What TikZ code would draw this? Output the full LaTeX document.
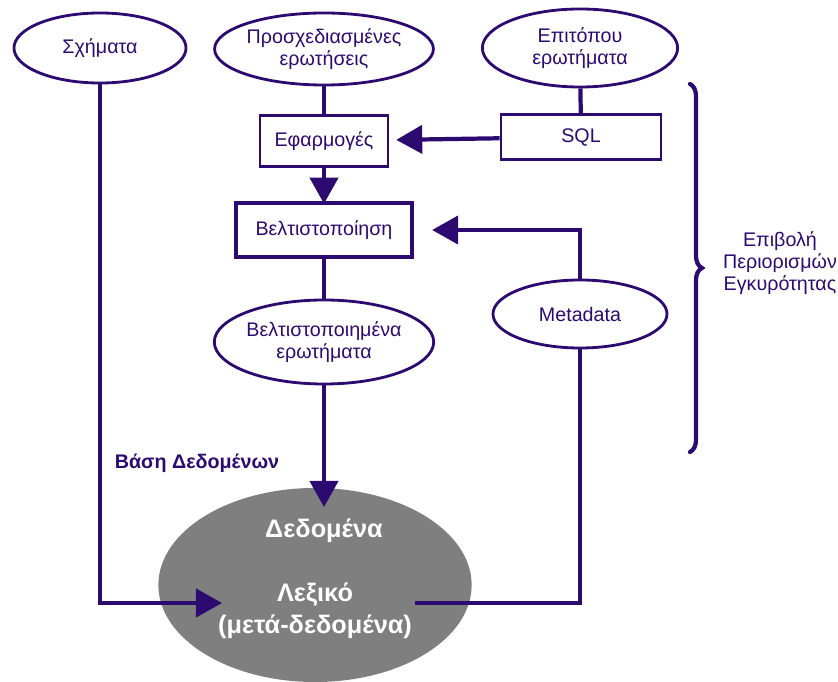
\documentclass[tikz,border=0pt]{standalone}
\usepackage{fontspec}
\setmainfont{Liberation Sans}
\usetikzlibrary{shapes.geometric,arrows.meta,decorations.pathreplacing}

\begin{document}
\begin{tikzpicture}[x=0.025cm,y=-0.025cm]
        %colores
        \definecolor{vio}{RGB}{45,10,112}
        \definecolor{gris}{RGB}{128,127,127}
        \tikzset{
            oval/.style={ellipse, draw=vio, line width=2pt, inner sep=0pt, align=center,
                text=vio, font=\fontsize{14}{15.5}\selectfont},
            caja/.style={rectangle, draw=vio, line width=2pt, inner sep=0pt,
                text=vio, font=\fontsize{14}{15.5}\selectfont},
            linea/.style={draw=vio, line width=3pt},
            flecha/.style={linea, -{Triangle[length=0.65cm,width=0.7cm]}},
            blanco/.style={text=white, align=center, font=\bfseries\fontsize{18}{23}\selectfont}
        }
        \useasboundingbox (0,0) rectangle (838,682);

        % base de datos
        \node[ellipse, fill=gris, minimum width=7.83cm, minimum height=4.85cm] (bd) at (315,585) {};
        \node[blanco] (datos) at (324,531) {Δεδομένα};
        \node[blanco] (dicc) at (315,611) {Λεξικό\\(μετά-δεδομένα)};
        \node[text=vio, font=\bfseries\fontsize{14}{16}\selectfont] (bdtxt) at (197,463) {Βάση Δεδομένων};

        % entradas
        \node[oval, minimum width=4.3cm, minimum height=1.75cm] (esq) at (100,48) {Σχήματα};
        \node[oval, minimum width=4.85cm, minimum height=1.8cm] (prog) at (324,49) {Προσχεδιασμένες\\ερωτήσεις};
        \node[oval, minimum width=4.88cm, minimum height=1.95cm] (adhoc) at (580,48) {Επιτόπου\\ερωτήματα};

        % cajas
        \node[caja, minimum width=3.2cm, minimum height=1.28cm] (apl) at (324,141) {Εφαρμογές};
        \node[caja, minimum width=4cm, minimum height=1.13cm] (sql) at (581,137) {SQL};
        \node[caja, line width=3pt, minimum width=4.4cm, minimum height=1.35cm] (opt) at (324,230) {Βελτιστοποίηση};
        \node[oval, minimum width=4.85cm, minimum height=2.1cm] (optq) at (324,342) {Βελτιστοποιημένα\\ερωτήματα};
        \node[oval, minimum width=4.35cm, minimum height=1.7cm] (meta) at (580,314) {Metadata};

        % puntos libres
        \coordinate (entdat) at (324,507);
        \coordinate (entdic) at (222,603);
        \coordinate (saldic) at (415,603);

        % conexiones
        \draw[linea] (prog) -- (apl);
        \draw[linea] (adhoc) -- (sql);
        \draw[flecha, shorten >=-2pt] (apl) -- (opt);
        \draw[flecha, shorten >=0.17cm] (sql) -- (apl);
        \draw[flecha, shorten >=0.45cm] (meta) |- (opt);
        \draw[linea] (opt) -- (optq);
        \draw[flecha] (optq) -- (entdat);
        \draw[flecha] (esq) |- (entdic);
        \draw[linea] (saldic) -| (meta);

        % llave
        \draw[vio, line width=3pt, line cap=round, decorate, decoration={brace, amplitude=0.3cm}]
            (690,84) -- (690,452);
        \node[text=vio, align=center, font=\fontsize{14}{15.5}\selectfont] (restr) at (780,263)
            {Επιβολή\\Περιορισμών\\Εγκυρότητας};
    \end{tikzpicture}
\end{document}
